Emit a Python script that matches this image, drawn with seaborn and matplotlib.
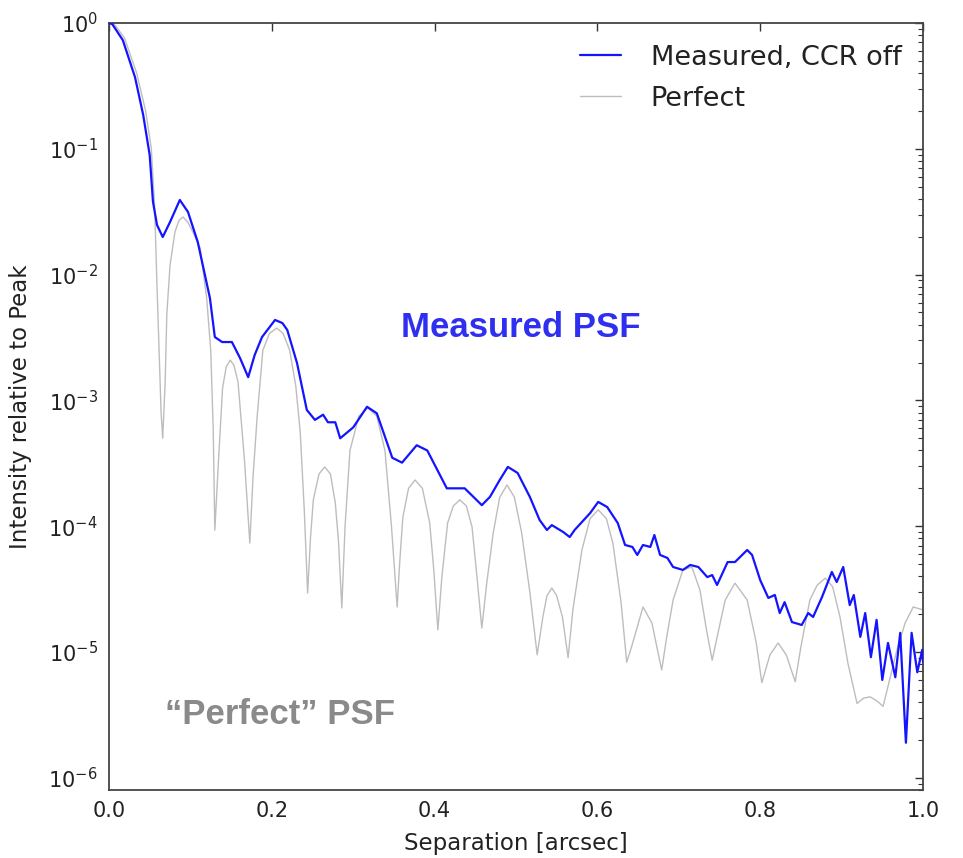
import matplotlib
matplotlib.use("Agg")
import matplotlib.pyplot as plt
import matplotlib.ticker as mticker
import numpy as np
import pandas as pd
import seaborn as sns

# ---- data ----
measured_sep = [0.000, 0.004, 0.017, 0.032, 0.042, 0.050, 0.054, 0.059, 0.066, 0.075,
                0.087, 0.097, 0.109, 0.124, 0.130, 0.139, 0.151, 0.161, 0.171, 0.179,
                0.188, 0.204, 0.213, 0.219, 0.231, 0.243, 0.253, 0.263, 0.269, 0.278,
                0.284, 0.300, 0.317, 0.329, 0.348, 0.360, 0.378, 0.391, 0.415, 0.437,
                0.458, 0.468, 0.480, 0.490, 0.502, 0.517, 0.529, 0.538, 0.544, 0.558,
                0.566, 0.572, 0.591, 0.601, 0.612, 0.625, 0.634, 0.643, 0.649, 0.656,
                0.665, 0.670, 0.677, 0.686, 0.693, 0.705, 0.714, 0.724, 0.735, 0.741,
                0.747, 0.760, 0.769, 0.784, 0.790, 0.800, 0.810, 0.818, 0.824, 0.830,
                0.839, 0.851, 0.859, 0.865, 0.876, 0.888, 0.894, 0.902, 0.910, 0.915,
                0.923, 0.929, 0.936, 0.943, 0.950, 0.957, 0.966, 0.972, 0.979, 0.986,
                0.993, 0.999, 1.000]
measured_int = [1.0, 0.98, 0.73, 0.37, 0.186, 0.089, 0.038, 0.0248, 0.0199, 0.0262,
                0.0392, 0.0315, 0.0182, 0.0065, 0.00319, 0.00291, 0.00291, 0.00217, 0.00153, 0.00230,
                0.00319, 0.00436, 0.00412, 0.00363, 0.00198, 0.00084, 0.00070, 0.00077, 0.00067, 0.00067,
                0.00050, 0.00061, 0.00089, 0.00079, 0.00035, 0.00032, 0.00044, 0.00040, 0.00020, 0.00020,
                1.47e-4, 1.71e-4, 2.33e-4, 2.96e-4, 2.65e-4, 1.71e-4, 1.12e-4, 9.33e-5, 1.02e-4, 8.99e-5,
                8.20e-5, 9.33e-5, 1.27e-4, 1.56e-4, 1.42e-4, 1.06e-4, 7.09e-5, 6.84e-5, 5.91e-5, 7.09e-5,
                6.84e-5, 8.51e-5, 5.91e-5, 5.59e-5, 4.74e-5, 4.49e-5, 4.92e-5, 4.74e-5, 3.94e-5, 4.09e-5,
                3.41e-5, 5.19e-5, 5.19e-5, 6.47e-5, 5.91e-5, 3.73e-5, 2.69e-5, 2.84e-5, 2.04e-5, 2.49e-5,
                1.73e-5, 1.64e-5, 2.04e-5, 1.90e-5, 2.74e-5, 4.33e-5, 3.60e-5, 4.74e-5, 2.36e-5, 2.84e-5,
                1.32e-5, 2.04e-5, 9.1e-6, 1.80e-5, 6.0e-6, 1.18e-5, 6.3e-6, 1.42e-5, 1.9e-6, 1.42e-5,
                6.9e-6, 1.04e-5, 8.3e-6]

perfect_sep = [0.000, 0.007, 0.019, 0.034, 0.045, 0.052, 0.056, 0.059, 0.062, 0.064, 0.066,
               0.069, 0.071, 0.075, 0.081, 0.086, 0.091, 0.097, 0.103, 0.112, 0.120, 0.125, 0.128,
               0.130, 0.1345, 0.1395, 0.144, 0.149, 0.1535, 0.1585, 0.1665,
               0.173, 0.177, 0.182, 0.189, 0.197, 0.206, 0.214, 0.222, 0.2295, 0.235, 0.240,
               0.244, 0.2475, 0.251, 0.258, 0.265, 0.272, 0.278, 0.282,
               0.286, 0.290, 0.296, 0.307, 0.318, 0.329, 0.339, 0.347,
               0.354, 0.357, 0.361, 0.368, 0.376, 0.385, 0.394, 0.399,
               0.404, 0.409, 0.416, 0.423, 0.431, 0.439, 0.446, 0.452,
               0.458, 0.464, 0.472, 0.480, 0.489, 0.498, 0.507, 0.517,
               0.526, 0.533, 0.538, 0.544, 0.550, 0.557,
               0.564, 0.570, 0.581, 0.591, 0.601, 0.611, 0.619, 0.629,
               0.636, 0.642, 0.649, 0.656, 0.667, 0.673,
               0.679, 0.685, 0.693, 0.705, 0.716, 0.726, 0.734,
               0.741, 0.748, 0.757, 0.769, 0.784, 0.795,
               0.802, 0.812, 0.822, 0.832,
               0.843, 0.850, 0.861, 0.870, 0.880, 0.889, 0.898, 0.908,
               0.919, 0.927, 0.935, 0.943, 0.951, 0.959, 0.968, 0.978, 0.988, 1.000]
perfect_int = [1.0, 0.97, 0.76, 0.40, 0.20, 0.10, 0.035, 0.008, 0.0020, 8e-4, 5e-4,
               1.4e-3, 4.8e-3, 0.0119, 0.0218, 0.027, 0.0287, 0.026, 0.0218, 0.0163, 0.0065, 0.0025, 6e-4,
               9.3e-5, 3.3e-4, 1.25e-3, 1.85e-3, 2.09e-3, 1.9e-3, 1.4e-3, 3.3e-4,
               7.35e-5, 2.5e-4, 7.4e-4, 2.5e-3, 3.4e-3, 3.76e-3, 3.4e-3, 2.5e-3, 1.3e-3, 5.5e-4, 1.3e-4,
               2.94e-5, 8e-5, 1.62e-4, 2.6e-4, 2.96e-4, 2.6e-4, 1.53e-4, 7.5e-5,
               2.24e-5, 1.0e-4, 4.0e-4, 7.5e-4, 8.7e-4, 7.5e-4, 4.0e-4, 1.0e-4,
               2.28e-5, 5e-5, 1.18e-4, 2.0e-4, 2.33e-4, 2.0e-4, 1.06e-4, 4.5e-5,
               1.5e-5, 4e-5, 1.06e-4, 1.45e-4, 1.62e-4, 1.45e-4, 9.86e-5, 4e-5,
               1.55e-5, 3.5e-5, 8.83e-5, 1.7e-4, 2.13e-4, 1.7e-4, 8.83e-5, 3e-5,
               9.5e-6, 1.9e-5, 2.8e-5, 3.23e-5, 2.8e-5, 1.9e-5,
               9.0e-6, 2.2e-5, 6.47e-5, 1.15e-4, 1.35e-4, 1.15e-4, 7.35e-5, 2.5e-5,
               8.3e-6, 1.1e-5, 1.58e-5, 2.28e-5, 1.7e-5, 1.1e-5,
               7.2e-6, 1.3e-5, 2.59e-5, 4.49e-5, 4.74e-5, 3.11e-5, 1.5e-5,
               8.6e-6, 1.4e-5, 2.59e-5, 3.53e-5, 2.59e-5, 1.2e-5,
               5.7e-6, 9.5e-6, 1.18e-5, 9.5e-6,
               5.8e-6, 1.1e-5, 2.59e-5, 3.4e-5, 3.87e-5, 3.3e-5, 1.9e-5, 8e-6,
               3.9e-6, 4.3e-6, 4.4e-6, 4.1e-6, 3.7e-6, 6e-6, 1.04e-5, 1.7e-5, 2.28e-5, 2.16e-5]

series_labels = ["Measured, CCR off", "Perfect"]
x_ticks = [0.0, 0.2, 0.4, 0.6, 0.8, 1.0]
y_ticks = [1e-6, 1e-5, 1e-4, 1e-3, 1e-2, 1e-1, 1e0]
x_label = "Separation [arcsec]"
y_label = "Intensity relative to Peak"
annot_measured = "Measured PSF"
annot_perfect = "\u201cPerfect\u201d PSF"

# ---- figure ----
sns.set_style("white")
plt.rcParams["font.family"] = ["DejaVu Sans"]
plt.rcParams["mathtext.fontset"] = "dejavusans"

fig = plt.figure(figsize=(9.63, 8.58), dpi=100)
ax = fig.add_axes([109 / 963, 1 - 790 / 858, 814 / 963, 767 / 858])

df_m = pd.DataFrame({"sep": measured_sep, "intensity": measured_int})
df_p = pd.DataFrame({"sep": perfect_sep, "intensity": perfect_int})

sns.lineplot(data=df_m, x="sep", y="intensity", ax=ax, color="#1414ff",
             linewidth=1.6, sort=False, estimator=None, label=series_labels[0], zorder=3)
sns.lineplot(data=df_p, x="sep", y="intensity", ax=ax, color="#bdbdbd",
             linewidth=1.0, sort=False, estimator=None, label=series_labels[1], zorder=2)

ax.set_yscale("log")
ax.set_xlim(0, 1)
ax.set_ylim(8e-7, 1)
ax.set_xticks(x_ticks)
ax.xaxis.set_major_formatter(mticker.FormatStrFormatter("%.1f"))
ax.set_yticks(y_ticks)
ax.yaxis.set_minor_locator(mticker.LogLocator(base=10, subs=np.arange(2, 10) * 1.0, numticks=20))
ax.yaxis.set_minor_formatter(mticker.NullFormatter())

ax.tick_params(axis="both", which="both", direction="in", top=True, right=True,
               colors="#333333", labelcolor="#222222")
ax.tick_params(axis="both", which="major", length=6, width=1.0, labelsize=15, pad=8)
ax.tick_params(axis="y", which="minor", length=3.5, width=0.8)
for s in ax.spines.values():
    s.set_color("#444444")
    s.set_linewidth(1.3)

ax.set_xlabel(x_label, fontsize=16.5, color="#222222", labelpad=8)
ax.set_ylabel(y_label, fontsize=16.5, color="#222222", labelpad=12)

ax.text(0.359, 0.591, annot_measured, transform=ax.transAxes, fontsize=25,
        fontweight="bold", color="#2f2ff0", family=["Liberation Sans", "DejaVu Sans"],
        va="baseline", ha="left")
ax.text(0.069, 0.086, annot_perfect, transform=ax.transAxes, fontsize=25,
        fontweight="bold", color="#8a8a8a", family=["Liberation Sans", "DejaVu Sans"],
        va="baseline", ha="left")

leg = ax.legend(loc="upper right", frameon=False, fontsize=19.5, handlelength=1.5,
                handletextpad=1.1, labelspacing=0.55, borderaxespad=0.4)
for t in leg.get_texts():
    t.set_color("#222222")

fig.savefig("out.png", dpi=100, facecolor="white")
